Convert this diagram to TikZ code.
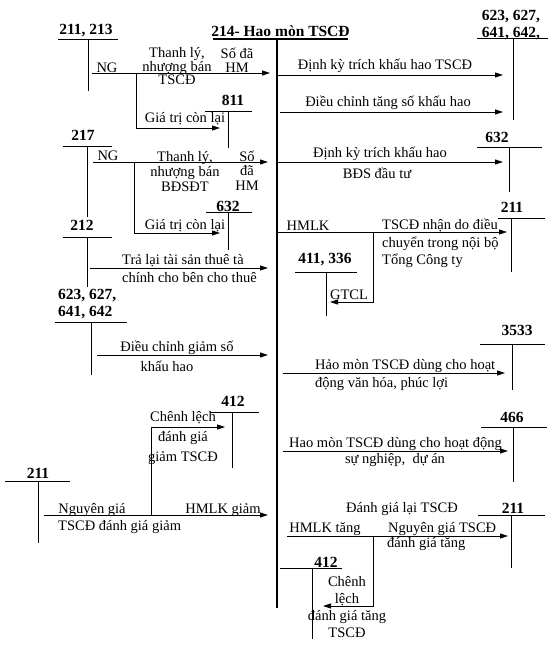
\documentclass[tikz,border=0pt]{standalone}
\usepackage{fontspec}
\setmainfont{Liberation Serif}
\usetikzlibrary{arrows.meta}
\begin{document}
\begin{tikzpicture}[x=1pt,y=-1pt,
  lbl/.style={font=\fontsize{15.5}{17}\selectfont\bfseries,inner sep=0pt},
  txt/.style={font=\fontsize{14.5}{16}\selectfont,inner sep=0pt,yshift=-1pt},
  tl/.style={line width=0.8pt},
  arr/.style={line width=0.8pt,-{Triangle[length=8pt,width=5pt]}},
  mainv/.style={line width=2.6pt},
  mainu/.style={line width=1.6pt}]
\useasboundingbox (0,0) rectangle (559,646);
% ---- main account 214
\node[lbl] (m) at (280.5,31) {214- Hao mòn TSCĐ};
\coordinate (mu1) at (213,39); \coordinate (mu2) at (348,39);
\coordinate (mv1) at (277,39); \coordinate (mv2) at (277,608);
\draw[mainu] (mu1) -- (mu2);
\draw[mainv] (mv1) -- (mv2);

% ---- 211,213
\node[lbl] (a1) at (86,31) {211, 213};
\coordinate (a1u1) at (58,39); \coordinate (a1u2) at (118,39);
\coordinate (a1v1) at (88,39); \coordinate (a1v2) at (88,91);
\draw[tl] (a1u1) -- (a1u2); \draw[tl] (a1v1) -- (a1v2);
\coordinate (r1s) at (92,73); \coordinate (r1e) at (270,73);
\draw[arr] (r1s) -- (r1e);
\node[txt] (t1a) at (107,66.5) {NG};
\node[txt,align=center,font=\fontsize{14.5}{13.5}\selectfont] (t1b) at (177,65.5) {Thanh lý,\\nhượng bán\\TSCĐ};
\node[txt,align=center,font=\fontsize{14.5}{14}\selectfont] (t1c) at (237,59) {Số đã\\HM};
\coordinate (b1a) at (136,73); \coordinate (b1b) at (136,128); \coordinate (b1c) at (220,128);
\draw[arr] (b1a) -- (b1b) -- (b1c);
\node[txt] (t1d) at (185,118) {Giá trị còn lại};
\node[lbl] (a811) at (233,100) {811};
\coordinate (a811u1) at (205,111); \coordinate (a811u2) at (252,111);
\coordinate (a811v1) at (228,111); \coordinate (a811v2) at (228,148);
\draw[tl] (a811u1) -- (a811u2); \draw[tl] (a811v1) -- (a811v2);

% ---- 217
\node[lbl] (a2) at (83,135) {217};
\coordinate (a2u1) at (63,146); \coordinate (a2u2) at (112,146);
\coordinate (a2v1) at (87,146); \coordinate (a2v2) at (87,217);
\draw[tl] (a2u1) -- (a2u2); \draw[tl] (a2v1) -- (a2v2);
\coordinate (r2s) at (93,162); \coordinate (r2e) at (268,162);
\draw[arr] (r2s) -- (r2e);
\node[txt] (t2a) at (108,155) {NG};
\node[txt,align=center,font=\fontsize{14.5}{15}\selectfont] (t2b) at (185,170.5) {Thanh lý,\\nhượng bán\\BĐSĐT};
\node[txt,align=center,font=\fontsize{14.5}{14.5}\selectfont] (t2c) at (247,169.5) {Số\\đã\\HM};
\coordinate (b2a) at (134,162); \coordinate (b2b) at (134,233); \coordinate (b2c) at (220,233);
\draw[arr] (b2a) -- (b2b) -- (b2c);
\node[txt] (t2d) at (185,225) {Giá trị còn lại};
\node[lbl] (a632l) at (228,206) {632};
\coordinate (a632lu1) at (206,212); \coordinate (a632lu2) at (252,212);
\coordinate (a632lv1) at (228,212); \coordinate (a632lv2) at (228,250);
\draw[tl] (a632lu1) -- (a632lu2); \draw[tl] (a632lv1) -- (a632lv2);

% ---- 212
\node[lbl] (a3) at (82,225) {212};
\coordinate (a3u1) at (63,237); \coordinate (a3u2) at (112,237);
\coordinate (a3v1) at (87,237); \coordinate (a3v2) at (87,287);
\draw[tl] (a3u1) -- (a3u2); \draw[tl] (a3v1) -- (a3v2);
\coordinate (r3s) at (90,268); \coordinate (r3e) at (268,268);
\draw[arr] (r3s) -- (r3e);
\node[txt,anchor=west] (t3a) at (122,260) {Trả lại tài sản thuê tà};
\node[txt,anchor=west] (t3b) at (122,277) {chính cho bên cho thuê};

% ---- 623,627,641,642 (left)
\node[lbl,align=left,anchor=west] (a4) at (58,304.5) {623, 627,\\641, 642};
\coordinate (a4u1) at (55,322); \coordinate (a4u2) at (127,322);
\coordinate (a4v1) at (91,322); \coordinate (a4v2) at (91,375);
\draw[tl] (a4u1) -- (a4u2); \draw[tl] (a4v1) -- (a4v2);
\coordinate (r4s) at (97,355); \coordinate (r4e) at (268,355);
\draw[arr] (r4s) -- (r4e);
\node[txt] (t4a) at (177,347) {Điều chỉnh giảm số};
\node[txt] (t4b) at (167,365) {khấu hao};

% ---- 412 (left) and 211 (bottom left)
\node[lbl] (a5) at (233,401) {412};
\coordinate (a5u1) at (210,412); \coordinate (a5u2) at (259,412);
\coordinate (a5v1) at (232,412); \coordinate (a5v2) at (232,468);
\draw[tl] (a5u1) -- (a5u2); \draw[tl] (a5v1) -- (a5v2);
\node[lbl] (a6) at (38,473) {211};
\coordinate (a6u1) at (5,481); \coordinate (a6u2) at (70,481);
\coordinate (a6v1) at (38,481); \coordinate (a6v2) at (38,543);
\draw[tl] (a6u1) -- (a6u2); \draw[tl] (a6v1) -- (a6v2);
\coordinate (r6s) at (44,515); \coordinate (r6e) at (268,515);
\draw[arr] (r6s) -- (r6e);
\coordinate (b6a) at (151,515); \coordinate (b6b) at (151,427); \coordinate (b6c) at (225,427);
\draw[arr] (b6a) -- (b6b) -- (b6c);
\node[txt,align=center,font=\fontsize{14.5}{20}\selectfont] (t5a) at (183,437) {Chênh lệch\\đánh giá\\giảm TSCĐ};
\node[txt] (t6a) at (92,509) {Nguyên giá};
\node[txt] (t6b) at (223,509) {HMLK giảm};
\node[txt,anchor=west] (t6c) at (58,526) {TSCĐ đánh giá giảm};

% ---- right: 623,627,641,642,
\node[lbl,align=left] (c1) at (511,25) {623, 627,\\641, 642,};
\coordinate (c1u1) at (477,38); \coordinate (c1u2) at (548,38);
\coordinate (c1v1) at (513,38); \coordinate (c1v2) at (513,120);
\draw[tl] (c1u1) -- (c1u2); \draw[tl] (c1v1) -- (c1v2);
\coordinate (s1s) at (278,75); \coordinate (s1e) at (503,75);
\draw[arr] (s1s) -- (s1e);
\node[txt] (u1) at (385,65) {Định kỳ trích khấu hao TSCĐ};
\coordinate (s2s) at (280,112); \coordinate (s2e) at (503,112);
\draw[arr] (s2s) -- (s2e);
\node[txt] (u2) at (388,102) {Điều chỉnh tăng số khấu hao};

% ---- 632 right
\node[lbl] (c2) at (497,137) {632};
\coordinate (c2u1) at (477,147); \coordinate (c2u2) at (542,147);
\coordinate (c2v1) at (509,147); \coordinate (c2v2) at (509,192);
\draw[tl] (c2u1) -- (c2u2); \draw[tl] (c2v1) -- (c2v2);
\coordinate (s3s) at (278,162); \coordinate (s3e) at (503,162);
\draw[arr] (s3s) -- (s3e);
\node[txt] (u3a) at (380,153) {Định kỳ trích khấu hao};
\node[txt] (u3b) at (377,172) {BĐS đầu tư};

% ---- 211 right (internal transfer)
\node[lbl] (c3) at (512,207) {211};
\coordinate (c3u1) at (498,218); \coordinate (c3u2) at (545,218);
\coordinate (c3v1) at (511,218); \coordinate (c3v2) at (511,272);
\draw[tl] (c3u1) -- (c3u2); \draw[tl] (c3v1) -- (c3v2);
\coordinate (s4s) at (278,232); \coordinate (s4e) at (507,232);
\draw[arr] (s4s) -- (s4e);
\node[txt] (u4a) at (308,225) {HMLK};
\node[txt,align=left,anchor=west,font=\fontsize{14.5}{17.5}\selectfont] (u4b) at (382,242.5) {TSCĐ nhận do điều\\chuyển trong nội bộ\\ Tổng Công ty};
\coordinate (d4a) at (373,232); \coordinate (d4b) at (373,302); \coordinate (d4c) at (330,302);
\draw[arr] (d4a) -- (d4b) -- (d4c);
\node[lbl] (c4) at (325,260) {411, 336};
\coordinate (c4u1) at (295,272); \coordinate (c4u2) at (357,272);
\coordinate (c4v1) at (326,272); \coordinate (c4v2) at (326,316);
\draw[tl] (c4u1) -- (c4u2); \draw[tl] (c4v1) -- (c4v2);
\node[txt] (u4c) at (349,294) {GTCL};

% ---- 3533
\node[lbl] (c5) at (517,330) {3533};
\coordinate (c5u1) at (480,344); \coordinate (c5u2) at (545,344);
\coordinate (c5v1) at (512,344); \coordinate (c5v2) at (512,390);
\draw[tl] (c5u1) -- (c5u2); \draw[tl] (c5v1) -- (c5v2);
\coordinate (s5s) at (283,373); \coordinate (s5e) at (505,373);
\draw[arr] (s5s) -- (s5e);
\node[txt,anchor=west] (u5a) at (315,365) {Hảo mòn TSCĐ dùng cho hoạt};
\node[txt,anchor=west] (u5b) at (315,383) {động văn hóa, phúc lợi};

% ---- 466
\node[lbl] (c6) at (512,417) {466};
\coordinate (c6u1) at (481,427); \coordinate (c6u2) at (547,427);
\coordinate (c6v1) at (513,427); \coordinate (c6v2) at (513,482);
\draw[tl] (c6u1) -- (c6u2); \draw[tl] (c6v1) -- (c6v2);
\coordinate (s6s) at (283,451); \coordinate (s6e) at (508,451);
\draw[arr] (s6s) -- (s6e);
\node[txt,anchor=west] (u6a) at (289,443) {Hao mòn TSCĐ dùng cho hoạt động};
\node[txt] (u6b) at (395,459) {sự nghiệp,\ \ dự án};

% ---- revaluation increase
\node[txt] (u7a) at (402,508) {Đánh giá lại TSCĐ};
\node[lbl] (c7) at (513,508) {211};
\coordinate (c7u1) at (478,515); \coordinate (c7u2) at (545,515);
\coordinate (c7v1) at (511,515); \coordinate (c7v2) at (511,568);
\draw[tl] (c7u1) -- (c7u2); \draw[tl] (c7v1) -- (c7v2);
\coordinate (s7s) at (287,536); \coordinate (s7e) at (508,536);
\draw[arr] (s7s) -- (s7e);
\node[txt] (u7b) at (325,528) {HMLK tăng};
\node[txt,anchor=west] (u7c) at (388,528) {Nguyên giá TSCĐ};
\node[txt,anchor=west] (u7d) at (387,543) {đánh giá tăng};
\coordinate (d7a) at (373,536); \coordinate (d7b) at (373,606); \coordinate (d7c) at (323,606);
\draw[arr] (d7a) -- (d7b) -- (d7c);
\node[lbl] (c8) at (326,562) {412};
\coordinate (c8u1) at (280,568); \coordinate (c8u2) at (342,568);
\coordinate (c8v1) at (312,568); \coordinate (c8v2) at (312,639);
\draw[tl] (c8u1) -- (c8u2); \draw[tl] (c8v1) -- (c8v2);
\node[txt,align=center,font=\fontsize{14.5}{17.3}\selectfont] (u8) at (347,606) {Chênh\\lệch\\đánh giá tăng\\TSCĐ};
\end{tikzpicture}
\end{document}
